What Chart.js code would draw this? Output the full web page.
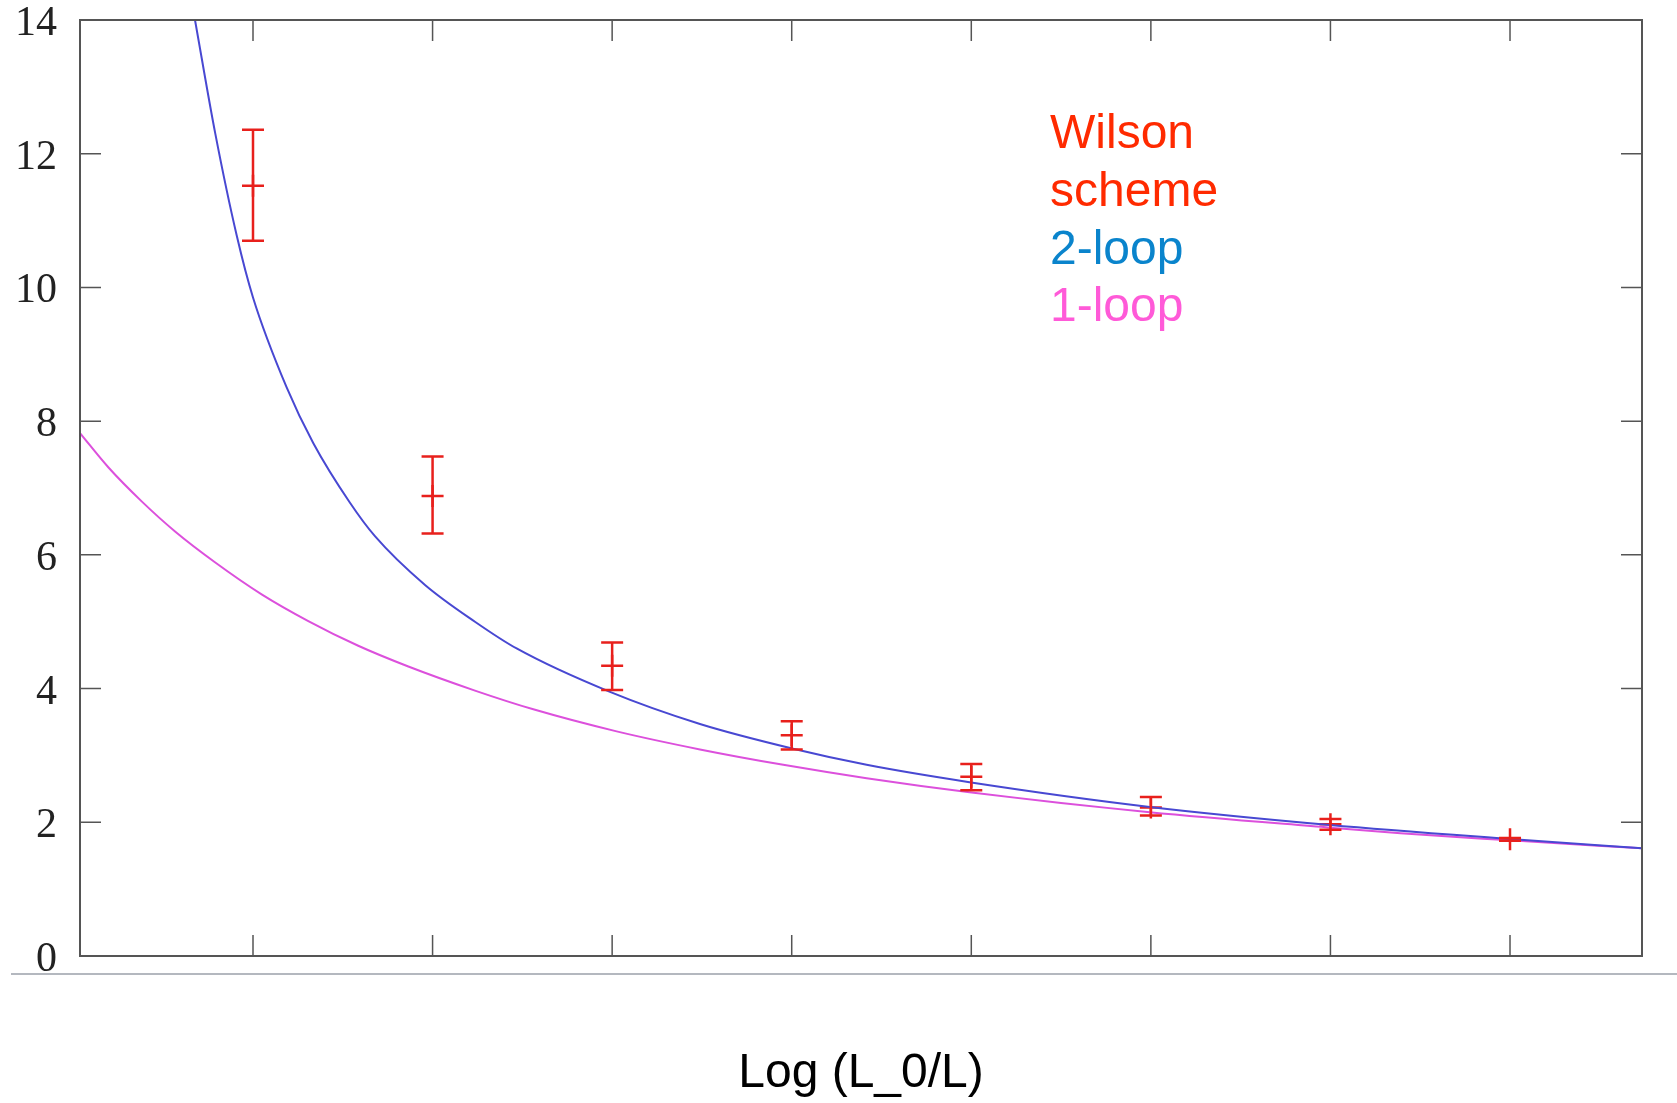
<!DOCTYPE html>
<html>
<head>
<meta charset="utf-8">
<script src="https://cdn.jsdelivr.net/npm/chart.js@4.4.1/dist/chart.umd.min.js"></script>
<style>
  body { margin: 0; background: #fff; }
  canvas { display: block; }
</style>
</head>
<body>
<canvas id="chart" width="1677" height="1103"></canvas>
<script>
// Lattice points (Wilson scheme) with error bars
const wilsonX = [1, 2, 3, 4, 5, 6, 7, 8];
const wilsonY = [11.52, 6.88, 4.34, 3.30, 2.68, 2.22, 1.97, 1.745];
const wilsonLow = [10.70, 6.32, 3.98, 3.09, 2.48, 2.10, 1.89, 1.725];
const wilsonHigh = [12.36, 7.47, 4.69, 3.51, 2.87, 2.38, 2.05, 1.765];

// 2-loop curve
const twoLoopX = [0.677, 0.79, 0.909, 1.0, 1.188, 1.336, 1.54, 1.679, 1.958, 2.236, 2.468, 2.988, 3.489, 4.008, 4.417, 4.99, 5.994, 6.997, 8.0, 8.734];
const twoLoopY = [14.0, 12.3, 10.78, 9.85, 8.5, 7.67, 6.78, 6.28, 5.55, 5.0, 4.60, 3.95, 3.47, 3.10, 2.86, 2.60, 2.23, 1.96, 1.75, 1.61];

// 1-loop curve
const oneLoopX = [0.0366, 0.194, 0.38, 0.566, 0.788, 1.048, 1.308, 1.586, 1.865, 2.236, 2.561, 3.025, 3.489, 3.953, 4.417, 4.99, 5.994, 6.997, 7.39, 8.0, 8.735];
const oneLoopY = [7.82, 7.31, 6.80, 6.35, 5.89, 5.41, 5.01, 4.64, 4.33, 3.97, 3.69, 3.36, 3.09, 2.86, 2.66, 2.45, 2.15, 1.92, 1.835, 1.73, 1.61];

// axis ranges and ticks
const xMin = 0.0366;
const xMax = 8.735;
const xTicks = [1, 2, 3, 4, 5, 6, 7, 8];
const yMin = 0;
const yMax = 14;
const yStep = 2;

// text notes in the plot
const notes = ["Wilson", "scheme", "2-loop", "1-loop"];
const noteColors = ["#ff2a00", "#ff2a00", "#0a84cc", "#ff5ad8"];

const red = "#e8201c";
const blueLine = "#4848d2";
const pinkLine = "#dc50dc";
const axisGrey = "#555555";

const toPoints = (xs, ys) => xs.map((v, i) => ({ x: v, y: ys[i] }));

// Frame box with inward ticks on all four sides
const frame = {
  id: "frame",
  afterDraw(chart) {
    const { ctx, chartArea: a, scales: { x, y } } = chart;
    ctx.save();
    // slide separator line under the plot
    ctx.strokeStyle = "#b4b8bf";
    ctx.lineWidth = 2;
    ctx.beginPath();
    ctx.moveTo(11, a.bottom + 18);
    ctx.lineTo(chart.width, a.bottom + 18);
    ctx.stroke();

    ctx.strokeStyle = axisGrey;
    ctx.lineWidth = 2;
    ctx.strokeRect(a.left, a.top, a.right - a.left, a.bottom - a.top);
    ctx.lineWidth = 1.5;
    const len = 21;
    ctx.beginPath();
    x.ticks.forEach(t => {
      const px = x.getPixelForValue(t.value);
      ctx.moveTo(px, a.bottom); ctx.lineTo(px, a.bottom - len);
      ctx.moveTo(px, a.top); ctx.lineTo(px, a.top + len);
    });
    y.ticks.forEach(t => {
      const py = y.getPixelForValue(t.value);
      ctx.moveTo(a.left, py); ctx.lineTo(a.left + len, py);
      ctx.moveTo(a.right, py); ctx.lineTo(a.right - len, py);
    });
    ctx.stroke();
    ctx.restore();
  }
};

// Vertical error bars with caps
const errorBars = {
  id: "errorBars",
  afterDatasetsDraw(chart) {
    const { ctx, scales: { x, y } } = chart;
    const cap = 11;
    ctx.save();
    ctx.strokeStyle = red;
    ctx.lineWidth = 2.5;
    wilsonX.forEach((v, i) => {
      const px = x.getPixelForValue(v);
      const top = y.getPixelForValue(wilsonHigh[i]);
      const bot = y.getPixelForValue(wilsonLow[i]);
      ctx.beginPath();
      ctx.moveTo(px, top); ctx.lineTo(px, bot);
      ctx.moveTo(px - cap, top); ctx.lineTo(px + cap, top);
      ctx.moveTo(px - cap, bot); ctx.lineTo(px + cap, bot);
      ctx.stroke();
    });
    ctx.restore();
  }
};

// Coloured labels inside the plot
const noteText = {
  id: "noteText",
  afterDraw(chart) {
    const { ctx, chartArea: a } = chart;
    ctx.save();
    ctx.font = "48px 'Liberation Sans', Arial, sans-serif";
    ctx.textBaseline = "alphabetic";
    ctx.textAlign = "left";
    notes.forEach((t, i) => {
      ctx.fillStyle = noteColors[i];
      ctx.fillText(t, a.left + 970, a.top + 128 + i * 57.8);
    });
    ctx.restore();
  }
};

new Chart(document.getElementById("chart"), {
  type: "scatter",
  data: {
    datasets: [
      {
        label: "2-loop",
        data: toPoints(twoLoopX, twoLoopY),
        showLine: true,
        borderColor: blueLine,
        borderWidth: 2,
        pointRadius: 0,
        cubicInterpolationMode: "monotone",
      },
      {
        label: "1-loop",
        data: toPoints(oneLoopX, oneLoopY),
        showLine: true,
        borderColor: pinkLine,
        borderWidth: 2,
        pointRadius: 0,
        cubicInterpolationMode: "monotone",
      },
      {
        label: "Wilson scheme",
        data: toPoints(wilsonX, wilsonY),
        showLine: false,
        pointStyle: "cross",
        pointRadius: 11,
        borderColor: red,
        borderWidth: 2.5,
      },
    ],
  },
  options: {
    responsive: false,
    animation: false,
    layout: { padding: { top: 20, right: 35, left: 0, bottom: 0 } },
    plugins: {
      legend: { display: false },
      tooltip: { enabled: false },
    },
    scales: {
      x: {
        type: "linear",
        min: xMin,
        max: xMax,
        afterBuildTicks: s => { s.ticks = xTicks.map(v => ({ value: v })); },
        afterFit: s => { s.height = 147; },
        grid: { display: false, drawTicks: false },
        border: { display: false },
        ticks: { display: false },
        title: {
          display: true,
          text: "Log (L_0/L)",
          color: "#000",
          font: { family: "'Liberation Sans', Arial, sans-serif", size: 48 },
          padding: 0,
        },
      },
      y: {
        min: yMin,
        max: yMax,
        afterFit: s => { s.width = 80; s.paddingTop = 0; s.paddingBottom = 0; },
        grid: { display: false, drawTicks: false },
        border: { display: false },
        ticks: {
          stepSize: yStep,
          color: "#222",
          padding: 23,
          labelOffset: 4,
          font: { family: "'Liberation Serif', 'Times New Roman', serif", size: 42, lineHeight: 0.8 },
        },
      },
    },
  },
  plugins: [frame, errorBars, noteText],
});
</script>
</body>
</html>
